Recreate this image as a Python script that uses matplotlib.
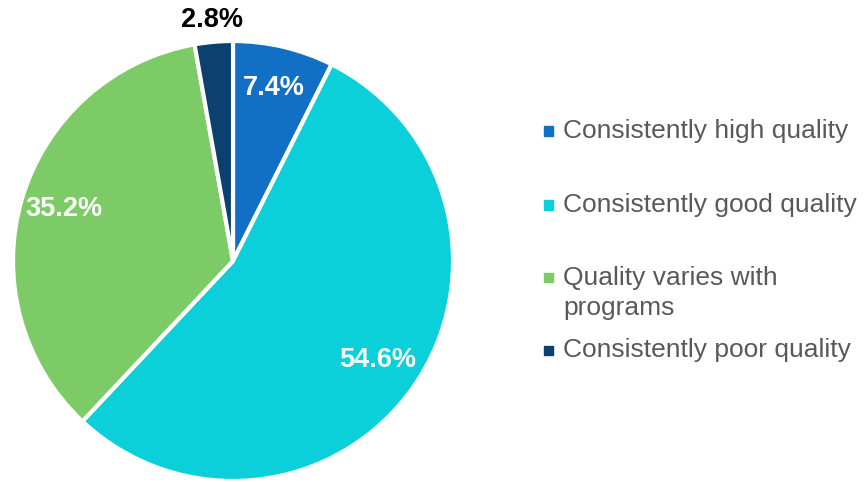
import numpy as np
import matplotlib
matplotlib.use("Agg")
import matplotlib.pyplot as plt
from matplotlib.patches import Rectangle

plt.rcParams['font.family'] = ['Liberation Sans', 'DejaVu Sans']

categories = ["Consistently high quality", "Consistently good quality",
              "Quality varies with\nprograms", "Consistently poor quality"]
shares = [7.4, 54.6, 35.2, 2.8]
colors = ["#1170C6", "#0CD0D9", "#7DCB67", "#0C416F"]

W, H = 864, 482
fig = plt.figure(figsize=(W / 100, H / 100), dpi=100)

cx, cy, r = 233, 261, 220
ax = fig.add_axes([(cx - r) / W, (H - cy - r) / H, 2 * r / W, 2 * r / H])
wedges, _ = ax.pie(shares, colors=colors, startangle=90, counterclock=False,
                   radius=1, wedgeprops=dict(edgecolor="white", linewidth=3))
ax.set_xlim(-1, 1)
ax.set_ylim(-1, 1)
ax.set_aspect("equal")
ax.axis("off")

for w, v in zip(wedges, shares):
    mid = np.deg2rad((w.theta1 + w.theta2) / 2)
    if v < 5:
        dist, col = 1.09, "black"
    else:
        dist, col = 0.8, "white"
    ax.text(dist * np.cos(mid), dist * np.sin(mid) + 0.01, f"{v:.1f}%",
            ha="center", va="center", color=col, fontsize=19.5,
            fontweight="bold", clip_on=False)

# legend drawn manually: (first-line centre, block centre)
legend_y = [(131, 131), (205, 205), (277, 293), (350, 350)]
for lab, col, (y0, yc) in zip(categories, colors, legend_y):
    fig.patches.append(Rectangle((544 / W, (H - y0 - 4.5) / H), 9 / W, 9 / H,
                                 transform=fig.transFigure, color=col))
    fig.text(563 / W, (H - yc) / H, lab, ha="left", va="center",
             fontsize=19, color="#595959", linespacing=1.33)

fig.savefig("out.png", dpi=100)
